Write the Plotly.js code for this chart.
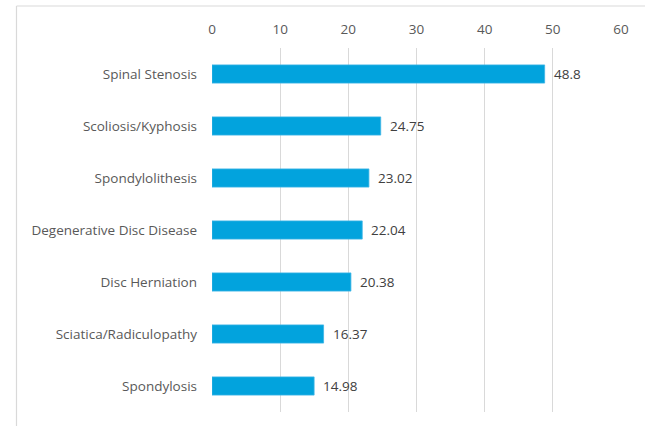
<!DOCTYPE html>
<html>
<head>
<meta charset="utf-8">
<script src="https://cdn.plot.ly/plotly-3.0.1.min.js"></script>
<style>html,body{margin:0;padding:0;background:#fff;} #chart{width:645px;height:426px;}</style>
</head>
<body>
<div id="chart"></div>
<script>
const categories = ["Spinal Stenosis","Scoliosis/Kyphosis","Spondylolithesis","Degenerative Disc Disease","Disc Herniation","Sciatica/Radiculopathy","Spondylosis"];
const values = [48.8, 24.75, 23.02, 22.04, 20.38, 16.37, 14.98];
const valueLabels = ["48.8","24.75","23.02","22.04","20.38","16.37","14.98"];
const tickVals = [0,10,20,30,40,50,60];

const FONT = '"Open Sans", "Liberation Sans", Arial, sans-serif';

const trace = {
  type: 'bar',
  orientation: 'h',
  x: values,
  y: categories,
  marker: {color: '#02A3DD', line: {color: '#3DB5E6', width: 0.8}},
  hoverinfo: 'none'
};

const annotations = values.map((v, i) => ({
  x: v, y: categories[i], xref: 'x', yref: 'y',
  text: valueLabels[i], showarrow: false, xanchor: 'left', xshift: 7,
  font: {family: FONT, size: 13.5, color: '#404040'}
}));

const layout = {
  width: 645, height: 426,
  margin: {l: 212, r: 24, t: 48, b: 14},
  paper_bgcolor: '#fff', plot_bgcolor: '#fff',
  showlegend: false,
  bargap: 0.65,
  xaxis: {
    side: 'top', range: [0, 60], tickvals: tickVals, ticktext: tickVals.map(String),
    showgrid: true, gridcolor: '#D9D9D9', gridwidth: 1,
    zeroline: false, showline: false, ticks: '', ticklabelstandoff: 10,
    tickfont: {family: FONT, size: 13.5, color: '#595959'}, fixedrange: true
  },
  yaxis: {
    autorange: 'reversed', showgrid: false, zeroline: false, showline: false,
    ticks: '', ticklabelstandoff: 14,
    tickfont: {family: FONT, size: 13.5, color: '#595959'}, fixedrange: true
  },
  annotations: annotations,
  shapes: [
    {type: 'line', xref: 'paper', yref: 'paper', x0: -0.478, x1: -0.478, y0: 1.1154, y1: -0.05, line: {color: '#D9D9D9', width: 1.2}},
    {type: 'line', xref: 'paper', yref: 'paper', x0: -0.478, x1: 1.07, y0: 1.1154, y1: 1.1154, line: {color: '#D9D9D9', width: 1.2}}
  ]
};

Plotly.newPlot('chart', [trace], layout, {displayModeBar: false, staticPlot: true});
</script>
</body>
</html>
